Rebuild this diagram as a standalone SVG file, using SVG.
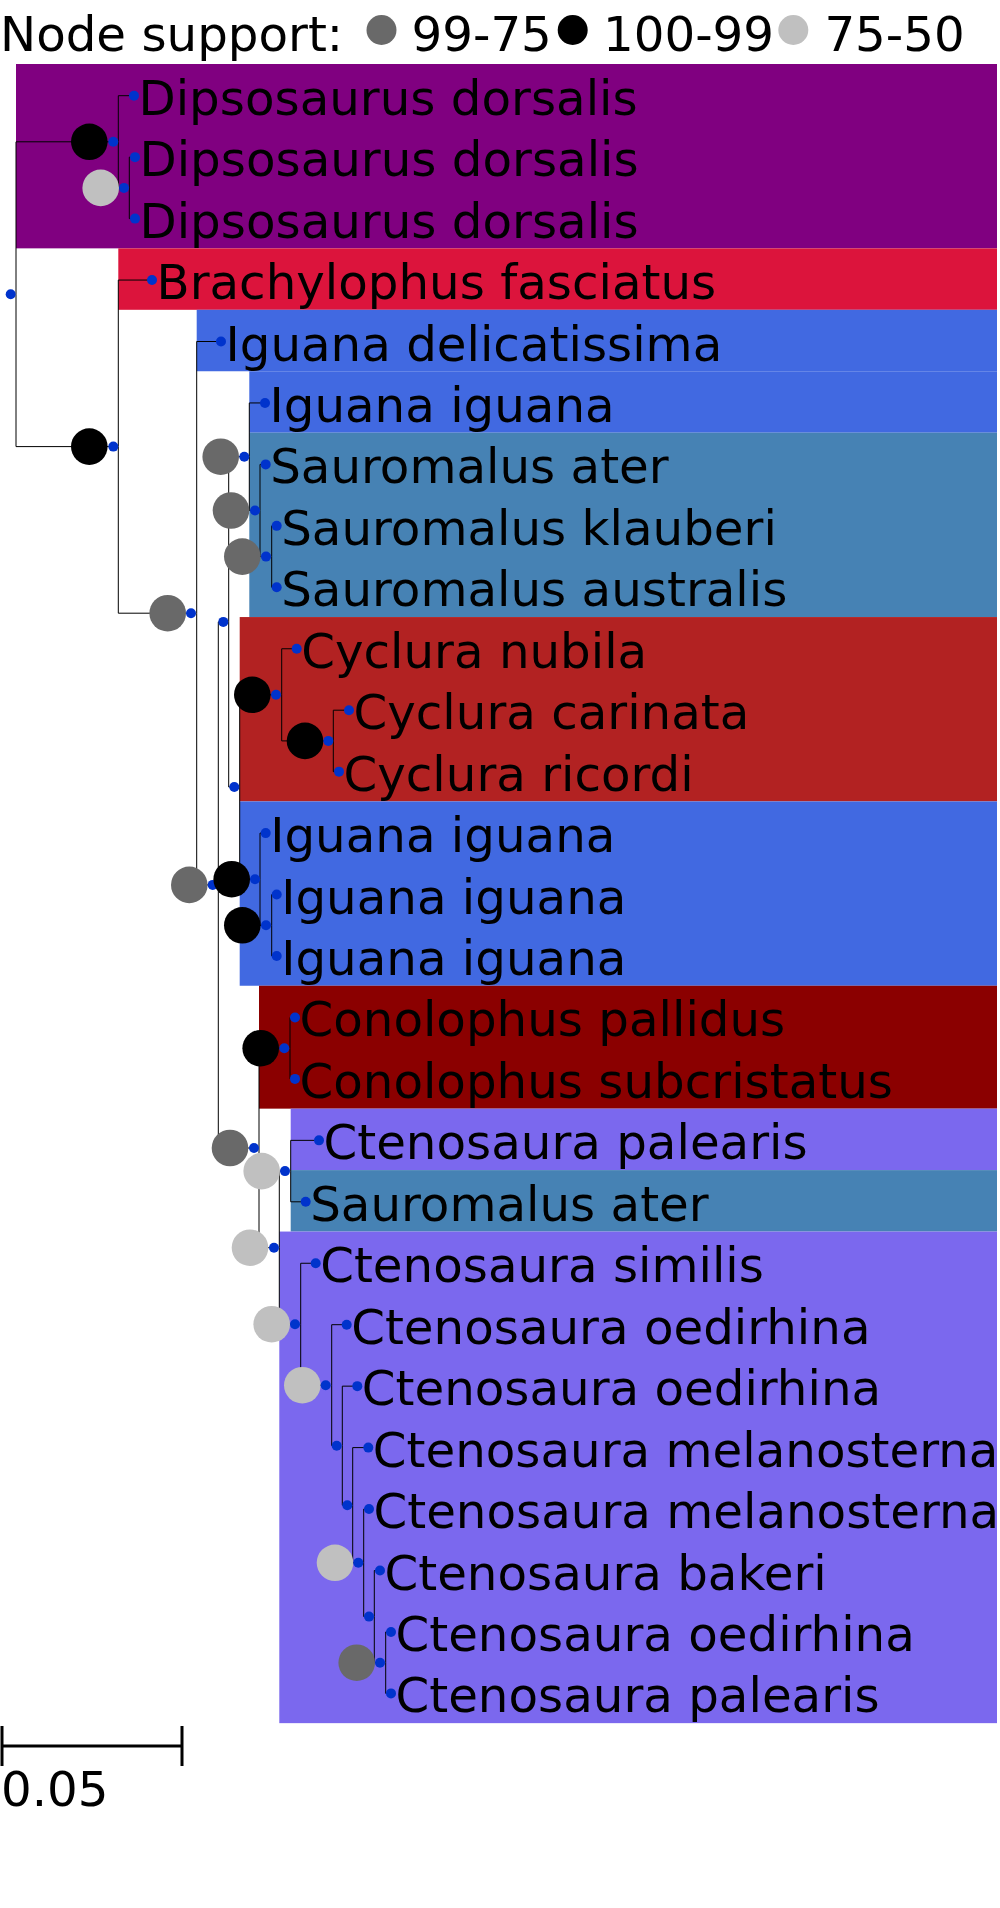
<svg xmlns="http://www.w3.org/2000/svg" width="1000" height="1908" viewBox="0 0 1000 1908">
<style>
text{font-family:"DejaVu Sans","Verdana",sans-serif;font-size:48.3px;fill:#000}
.br{fill:none;stroke:#000;stroke-width:1}
.nd{fill:#0033CC}
.s1{fill:#000}
.s2{fill:#696969}
.s3{fill:#C0C0C0}
.sb{stroke:#000;stroke-width:3;fill:none}
</style>
<rect width="1000" height="1908" fill="#fff"/>
<g id="legend">
<text x="0" y="50.7" font-size="49.5">Node support:</text>
<circle cx="381.5" cy="30" r="15" class="s2"/>
<text x="411.5" y="50.7" font-size="49">99-75</text>
<circle cx="572.7" cy="30" r="15" class="s1"/>
<text x="603" y="50.7" font-size="49">100-99</text>
<circle cx="793.3" cy="30" r="15" class="s3"/>
<text x="824.4" y="50.7" font-size="49">75-50</text>
</g>
<g id="backgrounds">
<rect x="16" y="64" width="981" height="184.35" fill="#800080"/>
<rect x="118.3" y="248.35" width="878.7" height="61.45" fill="#DC143C"/>
<rect x="196.7" y="309.8" width="800.3" height="61.45" fill="#4169E1"/>
<rect x="249.3" y="371.25" width="747.7" height="61.45" fill="#4169E1"/>
<rect x="249.3" y="432.7" width="747.7" height="184.35" fill="#4682B4"/>
<rect x="239.7" y="617.05" width="757.3" height="184.35" fill="#B22222"/>
<rect x="239.7" y="801.4" width="757.3" height="184.35" fill="#4169E1"/>
<rect x="259" y="985.75" width="738" height="122.9" fill="#8B0000"/>
<rect x="290.7" y="1108.65" width="706.3" height="61.45" fill="#7B68EE"/>
<rect x="290.7" y="1170.1" width="706.3" height="61.45" fill="#4682B4"/>
<rect x="279.3" y="1231.55" width="717.7" height="491.6" fill="#7B68EE"/>
</g>
<g id="connectors" class="br">
<path d="M16 294.2V141.8H113.3M16 294.2V446.6H113.3"/>
<path d="M118.3 141.8V95.7H134M118.3 141.8V187.9H124"/>
<path d="M129.3 187.9V157.15H135M129.3 187.9V218.6H135"/>
<path d="M118.3 446.6V280.05H152M118.3 446.6V613.2H191"/>
<path d="M196.7 613.2V341.5H221M196.7 613.2V884.9H212.7"/>
<path d="M218.3 884.9V621.9H223.3M218.3 884.9V1148H254"/>
<path d="M228.7 621.9V456.7H244.3M228.7 621.9V787H234.3"/>
<path d="M249.3 456.7V402.95H265M249.3 456.7V510.5H255"/>
<path d="M260 510.5V464.4H265.7M260 510.5V556.6H266"/>
<path d="M271.7 556.6V525.85H276.7M271.7 556.6V587.3H276.7"/>
<path d="M239.7 787V694.8H276M239.7 787V879.2H255"/>
<path d="M281.7 694.8V648.75H296.7M281.7 694.8V740.9H328.3"/>
<path d="M333.3 740.9V710.2H349M333.3 740.9V771.65H339"/>
<path d="M260 879.2V833.1H265.7M260 879.2V925.3H266"/>
<path d="M271.7 925.3V894.55H276.7M271.7 925.3V956H276.7"/>
<path d="M259 1148V1048.2H284.3M259 1148V1247.7H274"/>
<path d="M290 1048.2V1017.45H295M290 1048.2V1078.9H295"/>
<path d="M279.3 1247.7V1171.1H285M279.3 1247.7V1324.2H295"/>
<path d="M290.7 1171.1V1140.35H319M290.7 1171.1V1201.8H305.7"/>
<path d="M300.7 1324.2V1263.25H315.7M300.7 1324.2V1385.2H325.7"/>
<path d="M331.7 1385.2V1324.7H346.7M331.7 1385.2V1445.7H336.7"/>
<path d="M342.3 1445.7V1386.15H357.3M342.3 1445.7V1505.2H347.3"/>
<path d="M352.7 1505.2V1447.6H368.3M352.7 1505.2V1562.8H358.3"/>
<path d="M363.7 1562.8V1509.05H369M363.7 1562.8V1616.6H369"/>
<path d="M374.3 1616.6V1570.5H380M374.3 1616.6V1662.7H380"/>
<path d="M385.7 1662.7V1631.95H391M385.7 1662.7V1693.4H391"/>
</g>
<g id="node-root"><circle class="nd" cx="10.7" cy="294.2" r="5"/></g>
<g id="node-D1"><circle class="s1" cx="89.3" cy="141.8" r="18.3"/><circle class="nd" cx="113.3" cy="141.8" r="5"/></g>
<g id="node-D2"><circle class="s3" cx="100.7" cy="187.9" r="18.3"/><circle class="nd" cx="124" cy="187.9" r="5"/></g>
<g id="node-B1"><circle class="s1" cx="89.3" cy="446.6" r="18.3"/><circle class="nd" cx="113.3" cy="446.6" r="5"/></g>
<g id="node-X"><circle class="s2" cx="167.7" cy="613.2" r="18.3"/><circle class="nd" cx="191" cy="613.2" r="5"/></g>
<g id="node-Y"><circle class="s2" cx="189.3" cy="884.9" r="18.3"/><circle class="nd" cx="212.7" cy="884.9" r="5"/></g>
<g id="node-A"><circle class="nd" cx="223.3" cy="621.9" r="5"/></g>
<g id="node-G"><circle class="s2" cx="220.7" cy="456.7" r="18.3"/><circle class="nd" cx="244.3" cy="456.7" r="5"/></g>
<g id="node-Sa1"><circle class="s2" cx="231" cy="510.5" r="18.3"/><circle class="nd" cx="255" cy="510.5" r="5"/></g>
<g id="node-Sa2"><circle class="s2" cx="242.3" cy="556.6" r="18.3"/><circle class="nd" cx="266" cy="556.6" r="5"/></g>
<g id="node-M"><circle class="nd" cx="234.3" cy="787" r="5"/></g>
<g id="node-Cy1"><circle class="s1" cx="252.3" cy="694.8" r="18.3"/><circle class="nd" cx="276" cy="694.8" r="5"/></g>
<g id="node-Cy2"><circle class="s1" cx="305" cy="740.9" r="18.3"/><circle class="nd" cx="328.3" cy="740.9" r="5"/></g>
<g id="node-I1"><circle class="s1" cx="231.7" cy="879.2" r="18.3"/><circle class="nd" cx="255" cy="879.2" r="5"/></g>
<g id="node-I2"><circle class="s1" cx="242.3" cy="925.3" r="18.3"/><circle class="nd" cx="266" cy="925.3" r="5"/></g>
<g id="node-W"><circle class="s2" cx="230" cy="1148" r="18.3"/><circle class="nd" cx="254" cy="1148" r="5"/></g>
<g id="node-Co"><circle class="s1" cx="260.7" cy="1048.2" r="18.3"/><circle class="nd" cx="284.3" cy="1048.2" r="5"/></g>
<g id="node-V"><circle class="s3" cx="250" cy="1247.7" r="18.3"/><circle class="nd" cx="274" cy="1247.7" r="5"/></g>
<g id="node-U"><circle class="s3" cx="261.7" cy="1171.1" r="18.3"/><circle class="nd" cx="285" cy="1171.1" r="5"/></g>
<g id="node-T"><circle class="s3" cx="271.7" cy="1324.2" r="18.3"/><circle class="nd" cx="295" cy="1324.2" r="5"/></g>
<g id="node-S"><circle class="s3" cx="302.3" cy="1385.2" r="18.3"/><circle class="nd" cx="325.7" cy="1385.2" r="5"/></g>
<g id="node-R"><circle class="nd" cx="336.7" cy="1445.7" r="5"/></g>
<g id="node-Q"><circle class="nd" cx="347.3" cy="1505.2" r="5"/></g>
<g id="node-P"><circle class="s3" cx="335" cy="1562.8" r="18.3"/><circle class="nd" cx="358.3" cy="1562.8" r="5"/></g>
<g id="node-O"><circle class="nd" cx="369" cy="1616.6" r="5"/></g>
<g id="node-N"><circle class="s2" cx="356.7" cy="1662.7" r="18.3"/><circle class="nd" cx="380" cy="1662.7" r="5"/></g>
<g id="leaf-0"><circle class="nd" cx="134" cy="95.7" r="5"/><text x="138.5" y="115.2">Dipsosaurus dorsalis</text></g>
<g id="leaf-1"><circle class="nd" cx="135" cy="157.15" r="5"/><text x="139.5" y="176.4">Dipsosaurus dorsalis</text></g>
<g id="leaf-2"><circle class="nd" cx="135" cy="218.6" r="5"/><text x="139.5" y="237.6">Dipsosaurus dorsalis</text></g>
<g id="leaf-3"><circle class="nd" cx="152" cy="280.05" r="5"/><text x="156.5" y="299">Brachylophus fasciatus</text></g>
<g id="leaf-4"><circle class="nd" cx="221" cy="341.5" r="5"/><text x="225.5" y="360.5">Iguana delicatissima</text></g>
<g id="leaf-5"><circle class="nd" cx="265" cy="402.95" r="5"/><text x="269.5" y="422">Iguana iguana</text></g>
<g id="leaf-6"><circle class="nd" cx="265.7" cy="464.4" r="5"/><text x="270.2" y="483.4">Sauromalus ater</text></g>
<g id="leaf-7"><circle class="nd" cx="276.7" cy="525.85" r="5"/><text x="281.2" y="544.85">Sauromalus klauberi</text></g>
<g id="leaf-8"><circle class="nd" cx="276.7" cy="587.3" r="5"/><text x="281.2" y="606.3">Sauromalus australis</text></g>
<g id="leaf-9"><circle class="nd" cx="296.7" cy="648.75" r="5"/><text x="301.2" y="667.75">Cyclura nubila</text></g>
<g id="leaf-10"><circle class="nd" cx="349" cy="710.2" r="5"/><text x="353.5" y="729.2">Cyclura carinata</text></g>
<g id="leaf-11"><circle class="nd" cx="339" cy="771.65" r="5"/><text x="343.5" y="790.65">Cyclura ricordi</text></g>
<g id="leaf-12"><circle class="nd" cx="265.7" cy="833.1" r="5"/><text x="270.2" y="852.1">Iguana iguana</text></g>
<g id="leaf-13"><circle class="nd" cx="276.7" cy="894.55" r="5"/><text x="281.2" y="913.55">Iguana iguana</text></g>
<g id="leaf-14"><circle class="nd" cx="276.7" cy="956" r="5"/><text x="281.2" y="975">Iguana iguana</text></g>
<g id="leaf-15"><circle class="nd" cx="295" cy="1017.45" r="5"/><text x="299.5" y="1036.45">Conolophus pallidus</text></g>
<g id="leaf-16"><circle class="nd" cx="295" cy="1078.9" r="5"/><text x="299.5" y="1097.9">Conolophus subcristatus</text></g>
<g id="leaf-17"><circle class="nd" cx="319" cy="1140.35" r="5"/><text x="323.5" y="1159.35">Ctenosaura palearis</text></g>
<g id="leaf-18"><circle class="nd" cx="305.7" cy="1201.8" r="5"/><text x="310.2" y="1220.8">Sauromalus ater</text></g>
<g id="leaf-19"><circle class="nd" cx="315.7" cy="1263.25" r="5"/><text x="320.2" y="1282.25">Ctenosaura similis</text></g>
<g id="leaf-20"><circle class="nd" cx="346.7" cy="1324.7" r="5"/><text x="351.2" y="1343.7">Ctenosaura oedirhina</text></g>
<g id="leaf-21"><circle class="nd" cx="357.3" cy="1386.15" r="5"/><text x="361.8" y="1405.15">Ctenosaura oedirhina</text></g>
<g id="leaf-22"><circle class="nd" cx="368.3" cy="1447.6" r="5"/><text x="372.8" y="1466.6">Ctenosaura melanosterna</text></g>
<g id="leaf-23"><circle class="nd" cx="369" cy="1509.05" r="5"/><text x="373.5" y="1528.05">Ctenosaura melanosterna</text></g>
<g id="leaf-24"><circle class="nd" cx="380" cy="1570.5" r="5"/><text x="384.5" y="1589.5">Ctenosaura bakeri</text></g>
<g id="leaf-25"><circle class="nd" cx="391" cy="1631.95" r="5"/><text x="395.5" y="1650.95">Ctenosaura oedirhina</text></g>
<g id="leaf-26"><circle class="nd" cx="391" cy="1693.4" r="5"/><text x="395.5" y="1712.4">Ctenosaura palearis</text></g>
<g id="scale">
<path class="sb" d="M2 1746H182M2 1726V1766M182 1726V1766"/>
<text x="1" y="1805.5" font-size="43.5">0.05</text>
</g>
</svg>
